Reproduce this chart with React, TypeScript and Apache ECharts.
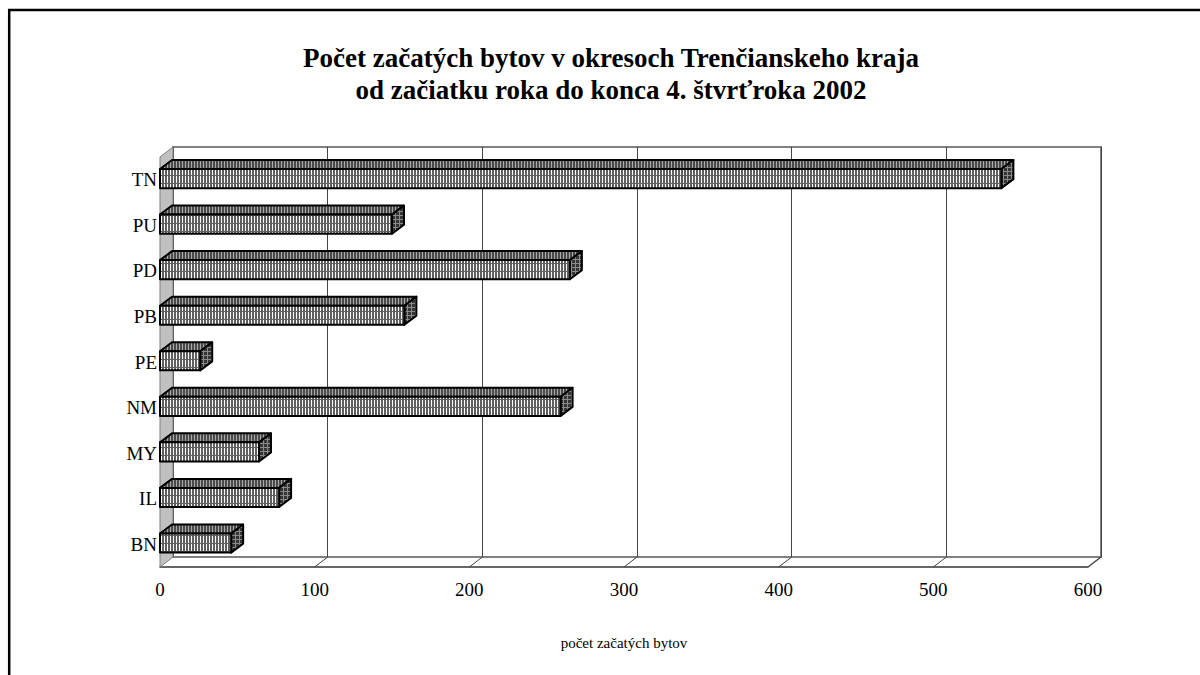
import React, { useEffect, useRef } from "react";
import * as echarts from "echarts";

const titleLines = [
  "Počet začatých bytov v okresoch Trenčianskeho kraja",
  "od začiatku roka do konca 4. štvrťroka 2002",
];
const categories = ["BN", "IL", "MY", "NM", "PE", "PB", "PD", "PU", "TN"];
const values = [46, 77, 64, 259, 26, 158, 265, 150, 544];
const xTicks = [0, 100, 200, 300, 400, 500, 600];
const xAxisName = "počet začatých bytov";

const SERIF = "'Liberation Serif', 'Times New Roman', serif";

function makePattern(
  w: number,
  h: number,
  bg: string,
  line: string,
  cols: number[],
  rows: number[],
  rowColor: string
) {
  const c = document.createElement("canvas");
  c.width = w;
  c.height = h;
  const g = c.getContext("2d")!;
  g.fillStyle = bg;
  g.fillRect(0, 0, w, h);
  g.fillStyle = line;
  cols.forEach((x) => g.fillRect(x, 0, 1, h));
  g.fillStyle = rowColor;
  rows.forEach((y) => g.fillRect(0, y, w, 1));
  return c;
}

export default function App() {
  const ref = useRef<HTMLDivElement>(null);

  useEffect(() => {
    document.body.style.margin = "0";
    const chart = echarts.init(ref.current!, null, { renderer: "svg" });

    const frontPat = makePattern(3, 8, "#5f5f5f", "#ffffff", [2], [7], "#5f5f5f");
    const topPat = makePattern(3, 4, "#4a4a4a", "#a8a8a8", [2], [], "#4a4a4a");
    const sidePat = makePattern(4, 4, "#353535", "#8a8a8a", [3], [3], "#8a8a8a");

    const WX = 13;
    const WY = 10;
    const BX = 12;
    const BY = 9;

    const GL = 160;
    const GT = 157;
    const GW = 928;
    const GH = 410;

    const option: any = {
      animation: false,
      backgroundColor: "#ffffff",
      title: {
        text: titleLines.join("\n"),
        left: 611,
        top: 42,
        padding: 0,
        textAlign: "center",
        textStyle: {
          fontFamily: SERIF,
          fontSize: 27,
          fontWeight: "bold",
          lineHeight: 32,
          color: "#000",
        },
      },
      grid: [
        { left: GL, top: GT, width: GW, height: GH, containLabel: false },
        {
          left: GL + WX,
          top: GT - WY,
          width: GW,
          height: GH,
          show: true,
          borderColor: "#808080",
          borderWidth: 2,
          backgroundColor: "#ffffff",
        },
      ],
      xAxis: [
        {
          type: "value",
          gridIndex: 0,
          min: 0,
          max: 600,
          interval: 100,
          axisLine: { show: true, lineStyle: { color: "#333", width: 1.5 } },
          axisTick: { show: false },
          splitLine: { show: false },
          axisLabel: {
            margin: 13,
            fontFamily: SERIF,
            fontSize: 19,
            color: "#000",
            formatter: (v: number) => (xTicks.includes(v) ? String(v) : ""),
          },
          name: xAxisName,
          nameLocation: "middle",
          nameGap: 68,
          nameTextStyle: { fontFamily: SERIF, fontSize: 15, color: "#000" },
        },
        {
          type: "value",
          gridIndex: 1,
          min: 0,
          max: 600,
          interval: 100,
          axisLine: { show: false },
          axisTick: { show: false },
          axisLabel: { show: false },
          splitLine: { show: true, lineStyle: { color: "#444", width: 1 } },
        },
      ],
      yAxis: [
        {
          type: "category",
          gridIndex: 0,
          data: categories,
          axisLine: { show: false },
          axisTick: { show: false },
          splitLine: { show: false },
          axisLabel: {
            margin: 3,
            fontFamily: SERIF,
            fontSize: 19,
            color: "#000",
          },
        },
        {
          type: "category",
          gridIndex: 1,
          data: categories,
          show: false,
        },
      ],
      series: [
        {
          type: "custom",
          name: "walls",
          xAxisIndex: 0,
          yAxisIndex: 0,
          z: 1,
          silent: true,
          data: [[0, 0]],
          renderItem: (params: any) => {
            const cs = params.coordSys;
            const x = cs.x;
            const y = cs.y;
            const w = cs.width;
            const h = cs.height;
            const children: any[] = [];
            xTicks.slice(1, -1).forEach((t) => {
              const tx = x + (t / 600) * w;
              children.push({
                type: "line",
                shape: { x1: tx, y1: y + h, x2: tx + WX, y2: y + h - WY },
                style: { stroke: "#444", lineWidth: 1 },
              });
            });
            children.push({
              type: "line",
              shape: { x1: x + w, y1: y + h, x2: x + w + WX, y2: y + h - WY },
              style: { stroke: "#444", lineWidth: 1.5 },
            });
            children.push({
              type: "polygon",
              shape: {
                points: [
                  [x, y],
                  [x + WX, y - WY],
                  [x + WX, y + h - WY],
                  [x, y + h],
                ],
              },
              style: { fill: "#c0c0c0", stroke: "#808080", lineWidth: 1 },
            });
            return { type: "group", children };
          },
        },
        {
          type: "custom",
          name: "bars",
          xAxisIndex: 0,
          yAxisIndex: 0,
          z: 3,
          encode: { x: 0, y: 1 },
          data: values.map((v, i) => [v, i]),
          renderItem: (params: any, api: any) => {
            const v = api.value(0);
            const idx = api.value(1);
            const p0 = api.coord([0, idx]);
            const p1 = api.coord([v, idx]);
            const band = api.size([0, 1])[1];
            const fh = band * 0.42;
            const cy = p0[1] - 1.2;
            const x0 = p0[0];
            const x1 = p1[0];
            const y0 = cy - fh / 2;
            const y1 = cy + fh / 2;
            const stroke = { stroke: "#000", lineWidth: 2, lineJoin: "round" };
            return {
              type: "group",
              children: [
                {
                  type: "polygon",
                  shape: {
                    points: [
                      [x0, y0],
                      [x1, y0],
                      [x1 + BX, y0 - BY],
                      [x0 + BX, y0 - BY],
                    ],
                  },
                  style: { fill: { image: topPat, repeat: "repeat" }, ...stroke },
                },
                {
                  type: "polygon",
                  shape: {
                    points: [
                      [x1, y0],
                      [x1 + BX, y0 - BY],
                      [x1 + BX, y1 - BY],
                      [x1, y1],
                    ],
                  },
                  style: { fill: { image: sidePat, repeat: "repeat" }, ...stroke },
                },
                {
                  type: "rect",
                  shape: { x: x0, y: y0, width: x1 - x0, height: y1 - y0 },
                  style: { fill: { image: frontPat, repeat: "repeat" }, ...stroke },
                },
              ],
            };
          },
        },
      ],
      graphic: [
        {
          type: "polyline",
          silent: true,
          z: 100,
          shape: {
            points: [
              [9.2, 700],
              [9.2, 10],
              [1220, 10],
            ],
          },
          style: { stroke: "#000", lineWidth: 2.5, fill: null },
        },
      ],
    };

    chart.setOption(option);
    return () => chart.dispose();
  }, []);

  return <div ref={ref} style={{ width: 1200, height: 675 }} />;
}
